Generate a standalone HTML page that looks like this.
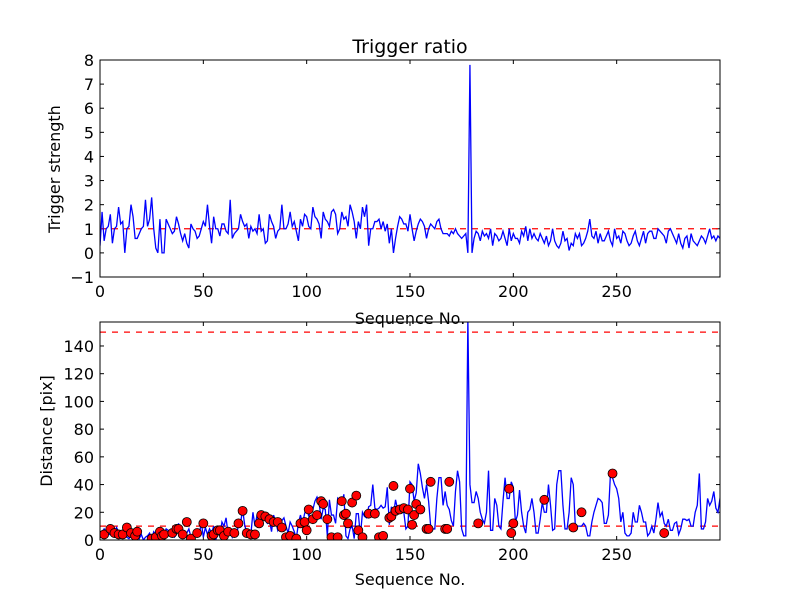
<!DOCTYPE html>
<html><head><meta charset="utf-8"><style>
body{margin:0;background:#fff;}
svg{display:block;font-family:"DejaVu Sans","Liberation Sans",sans-serif;}
</style></head><body>
<svg id="c" width="800" height="600"></svg>
<script>
const xTicks=[0,50,100,150,200,250];
const topTicks=[-1,0,1,2,3,4,5,6,7,8];
const botTicks=[0,20,40,60,80,100,120,140];
const ratio=[0.3,1.7,0.5,1.0,1.1,1.6,0.4,1.0,1.1,1.9,1.2,1.3,0.0,1.0,1.1,2.0,1.5,0.6,0.6,0.8,1.0,1.1,2.2,1.1,1.4,2.3,1.0,0.2,0.0,1.4,0.0,0.0,1.4,1.2,1.0,0.8,0.9,1.5,1.2,0.8,0.5,0.8,0.4,0.2,1.2,1.0,0.9,0.6,0.7,1.0,1.3,1.1,2.0,1.1,0.4,1.5,1.0,1.0,0.7,1.2,1.2,0.9,0.8,2.2,0.6,0.8,0.9,1.0,1.6,1.3,1.1,1.2,0.6,1.1,0.9,1.0,0.8,1.6,0.9,1.0,0.4,0.5,1.6,1.3,1.1,0.6,0.9,1.0,2.0,1.0,1.0,1.2,1.7,1.1,1.3,0.9,0.5,1.4,1.1,1.6,1.5,1.1,1.0,1.9,1.5,1.4,1.2,0.6,1.7,1.4,1.3,1.1,1.7,1.8,1.6,0.8,1.0,1.7,1.4,1.5,1.1,2.0,1.7,1.3,0.6,1.3,1.0,1.9,1.5,2.0,0.3,1.0,1.0,1.3,1.3,1.4,1.0,1.3,0.9,1.2,0.4,1.0,0.0,0.6,1.1,1.5,1.4,1.2,1.2,0.9,1.6,1.0,0.5,0.9,1.2,1.4,1.3,1.1,0.6,1.0,1.2,1.1,1.0,1.3,1.4,1.0,0.8,0.8,0.8,0.7,0.9,0.8,1.0,0.8,0.7,0.6,0.7,0.8,0.0,7.8,0.0,0.6,0.9,0.8,0.5,0.9,0.7,0.8,0.6,1.0,0.3,0.8,0.7,0.5,0.6,0.9,0.6,0.3,1.0,0.5,0.8,0.6,0.6,0.4,0.9,0.7,1.1,0.5,1.0,0.6,0.8,0.6,0.5,0.8,0.6,0.4,0.7,0.3,0.5,1.0,0.5,0.3,0.2,0.4,0.9,0.5,0.6,0.1,0.4,0.3,0.8,0.6,0.8,0.3,0.4,0.6,0.9,1.4,0.7,0.6,0.9,0.4,0.8,0.5,0.5,0.7,0.9,0.5,0.3,1.0,0.6,0.7,0.4,0.9,0.8,0.5,0.3,0.4,0.7,0.9,0.5,0.3,0.6,0.9,0.4,0.8,0.9,0.9,0.6,0.6,1.0,0.9,0.8,0.7,0.4,0.9,1.0,0.8,0.6,0.4,0.8,0.4,0.2,0.6,0.7,0.2,0.8,0.5,0.4,0.3,0.5,0.7,0.6,0.4,0.7,1.0,0.6,0.7,0.5,0.7,0.6,1.0];
const distance=[4,5,8,6,4,4,3,5,9,6,4,3,5,2,1,3,5,2,3,1,4,0,2,3,5,1,6,4,3,2,1,4,8,7,5,3,2,4,12,4,6,3,5,8,2,4,6,3,3,13,2,9,4,8,5,10,0,5,3,13,10,16,4,8,2,5,3,11,12,22,11,5,4,4,20,10,18,12,15,17,14,12,14,6,18,13,7,11,14,16,10,5,13,10,6,1,12,18,12,19,24,17,22,22,28,31,27,15,23,22,3,29,18,18,12,30,28,26,33,3,1,8,10,1,19,19,3,20,17,16,24,25,40,23,22,23,25,23,24,38,11,24,18,29,22,20,20,20,8,10,42,40,28,34,55,48,38,30,40,28,10,8,8,30,45,45,25,35,25,22,14,10,35,50,42,8,3,3,160,40,27,27,35,30,20,15,12,20,50,7,7,30,25,10,8,28,45,30,30,42,38,13,18,36,20,10,5,20,22,30,20,5,5,15,27,20,20,40,25,7,8,40,50,50,25,8,8,20,45,40,10,10,10,10,12,10,3,3,13,20,25,30,29,27,12,12,18,48,45,40,37,30,13,20,5,3,3,5,20,13,13,25,20,13,13,3,5,10,5,15,27,17,20,12,10,15,7,7,12,13,4,8,15,15,14,15,10,10,20,25,48,8,8,13,30,25,28,35,23,20,30,28];
const dotX=[2,5,7,9,11,13,15,17,18,25,27,29,30,31,35,37,38,40,42,44,47,50,54,55,57,58,60,62,65,67,69,71,73,75,77,78,80,82,84,86,88,90,92,95,97,99,100,101,103,105,107,108,110,112,115,117,118,119,120,122,124,125,127,130,133,135,137,140,141,142,143,145,147,149,150,151,152,153,155,158,159,160,167,168,169,183,198,199,200,215,229,233,248,273];
const dotY=[4,8,5,4,4,9,5,3,6,1,2,6,3,4,5,8,8,4,13,1,5,12,3,4,7,7,3,6,5,12,21,5,4,4,12,18,17,15,13,13,9,2,3,1,12,13,7,22,15,18,28,26,15,2,2,28,18,19,12,27,32,7,2,19,19,2,3,16,17,39,21,22,23,22,37,11,18,26,22,8,8,42,8,8,42,12,37,5,12,29,9,20,48,5];
const XMAX=300;
const NS="http://www.w3.org/2000/svg";
const svg=document.getElementById('c');
function mk(t,a,p){const e=document.createElementNS(NS,t);for(const k in a)e.setAttribute(k,a[k]);(p||svg).appendChild(e);return e;}
const L=100,R=720;
const xs=v=>L+(R-L)*v/XMAX;
const topY=v=>60+(8-v)*(277-60)/9;
const botY=v=>540-(540-322)*v/157.3;
mk('rect',{x:0,y:0,width:800,height:600,fill:'#fff'});
function axes(y0,y1,ys,ticks,name,clipId){
  const g=mk('g',{});
  
  
  const cp=mk('clipPath',{id:clipId});mk('rect',{x:L,y:y0,width:R-L,height:y1-y0},cp);
  ticks.forEach(t=>{const y=ys(t);
    mk('line',{x1:L,x2:L+4,y1:y,y2:y,stroke:'#000'},g);mk('line',{x1:R,x2:R-4,y1:y,y2:y,stroke:'#000'},g);
    const tx=mk('text',{x:L-6,y:y+6,'text-anchor':'end','font-size':16},g);tx.textContent=(t<0?'\u2212'+(-t):t);
    });
  xTicks.forEach(t=>{const x=xs(t);
    mk('line',{x1:x,x2:x,y1:y1,y2:y1-4,stroke:'#000'},g);mk('line',{x1:x,x2:x,y1:y0,y2:y0+4,stroke:'#000'},g);
    const tx=mk('text',{x:x,y:y1+20,'text-anchor':'middle','font-size':16},g);tx.textContent=t;
    });
  return g;
}
axes(60,277,topY,topTicks,'top','ct');
const gl=mk('g',{'clip-path':'url(#ct)'});
const th=mk('line',{x1:L,x2:R,y1:topY(1),y2:topY(1),stroke:'red','stroke-dasharray':'6,6','stroke-width':1.2},gl);

const p1=mk('polyline',{points:ratio.map((v,i)=>xs(i)+','+topY(v)).join(' '),fill:'none',stroke:'blue','stroke-width':1.3},gl);

mk('rect',{x:L,y:60,width:R-L,height:217,fill:'none',stroke:'#000'});
axes(322,540,botY,botTicks,'bottom','cb');
const g2=mk('g',{'clip-path':'url(#cb)'});
[10,150].forEach(v=>{const l=mk('line',{x1:L,x2:R,y1:botY(v),y2:botY(v),stroke:'red','stroke-dasharray':'6,6','stroke-width':1.2},g2);
  });
const p2=mk('polyline',{points:distance.map((v,i)=>xs(i)+','+botY(v)).join(' '),fill:'none',stroke:'blue','stroke-width':1.3},g2);

dotX.forEach((x,i)=>{const c=mk('circle',{cx:xs(x),cy:botY(dotY[i]),r:4.5,fill:'red',stroke:'#000','stroke-width':0.8},g2);
  });
mk('rect',{x:L,y:322,width:R-L,height:218,fill:'none',stroke:'#000'});
function txt(s,a,name){const t=mk('text',a);t.textContent=s;}
txt('Trigger ratio',{x:410,y:53,'text-anchor':'middle','font-size':19},'chart-title');
txt('Sequence No.',{x:410,y:324,'text-anchor':'middle','font-size':16},'top-x-axis-title');
txt('Sequence No.',{x:410,y:585,'text-anchor':'middle','font-size':16},'bottom-x-axis-title');
txt('Trigger strength',{x:60,y:169,'text-anchor':'middle','font-size':16,transform:'rotate(-90 60 169)'},'top-y-axis-title');
txt('Distance [pix]',{x:52,y:431,'text-anchor':'middle','font-size':16,transform:'rotate(-90 52 431)'},'bottom-y-axis-title');
</script>
</body></html>
